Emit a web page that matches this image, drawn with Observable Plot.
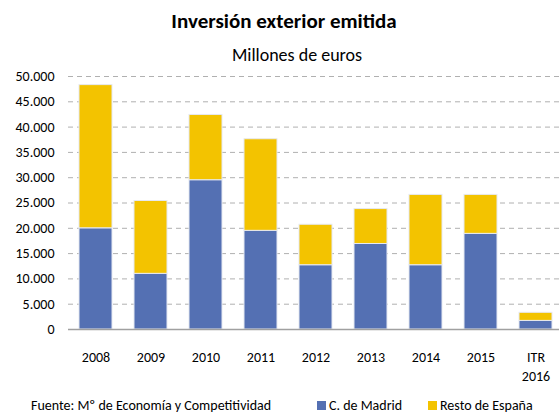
<!DOCTYPE html>
<html>
<head>
<meta charset="utf-8">
<script src="https://cdn.jsdelivr.net/npm/d3@7"></script>
<script src="https://cdn.jsdelivr.net/npm/@observablehq/plot@0.6"></script>
<style>
  body { margin: 0; background: #fff; font-family: Carlito, Lato, "Open Sans", sans-serif; color: #000; }
  #wrap { position: relative; width: 559px; height: 416px; overflow: hidden; }
  #chart { position: absolute; left: 0; top: 0; }
  .t { position: absolute; white-space: nowrap; line-height: 1; }
  #title { left: 84px; width: 400px; text-align: center; top: 11px; font-size: 21px; font-weight: bold; }
  #subtitle { left: 147px; width: 300px; text-align: center; top: 46px; font-size: 18px; }
  #footer { left: 31px; top: 399px; font-size: 14px; }
  .sw { display: inline-block; width: 9px; height: 9px; margin-right: 3px; }
</style>
</head>
<body>
<div id="wrap">
  <div id="chart"></div>
  <div class="t" id="title">Inversión exterior emitida</div>
  <div class="t" id="subtitle">Millones de euros</div>
  <div class="t" id="footer">Fuente: Mº de Economía y Competitividad</div>
  <div class="t" style="left:317px; top:399px; font-size:14px;"><span class="sw" style="background:#5470b3"></span>C. de Madrid</div>
  <div class="t" style="left:428px; top:399px; font-size:14px;"><span class="sw" style="background:#f3c300"></span>Resto de España</div>
</div>
<script>
const periods = ["2008", "2009", "2010", "2011", "2012", "2013", "2014", "2015", "ITR\n2016"];
const madrid = [20000, 11000, 29500, 19500, 12700, 16900, 12700, 18900, 1700];
const resto  = [28300, 14400, 12900, 18100, 8000, 6900, 13900, 7700, 1600];
const seriesNames = ["C. de Madrid", "Resto de España"];
const seriesColors = ["#5470b3", "#f3c300"];
const yTicks = [0, 5000, 10000, 15000, 20000, 25000, 30000, 35000, 40000, 45000, 50000];

const rows = [];
periods.forEach((p, i) => {
  rows.push({period: p, serie: seriesNames[0], value: madrid[i]});
  rows.push({period: p, serie: seriesNames[1], value: resto[i]});
});

const fmt = d => d3.format(",")(d).replace(/,/g, ".");

const chart = Plot.plot({
  width: 559,
  height: 416,
  marginLeft: 68,
  marginRight: 0,
  marginTop: 76,
  marginBottom: 87,
  style: {fontFamily: "Carlito, Lato, 'Open Sans', sans-serif", fontSize: "14px", color: "#000", background: "transparent", overflow: "hidden"},
  x: {domain: periods, range: [68, 563], paddingInner: 0.4, paddingOuter: 0.2, label: null},
  y: {domain: [0, 50000], ticks: yTicks, label: null},
  color: {domain: seriesNames, range: seriesColors},
  marks: [
    Plot.gridY(yTicks.slice(1), {stroke: "#b0b0b0", strokeOpacity: 1, strokeDasharray: "5,4", strokeWidth: 1}),
    Plot.barY(rows, Plot.stackY({x: "period", y: "value", fill: "serie", order: seriesNames, stroke: "#e6e9f2", strokeWidth: 1})),
    Plot.ruleY([0], {stroke: "#a0a0a0", strokeWidth: 1.5}),
    Plot.axisY({ticks: yTicks, tickSize: 0, tickPadding: 14, tickFormat: fmt, fontSize: 14}),
    Plot.axisX({tickSize: 0, tickPadding: 20, fontSize: 14, lineHeight: 1.3})
  ]
});
document.getElementById("chart").appendChild(chart);
</script>
</body>
</html>
